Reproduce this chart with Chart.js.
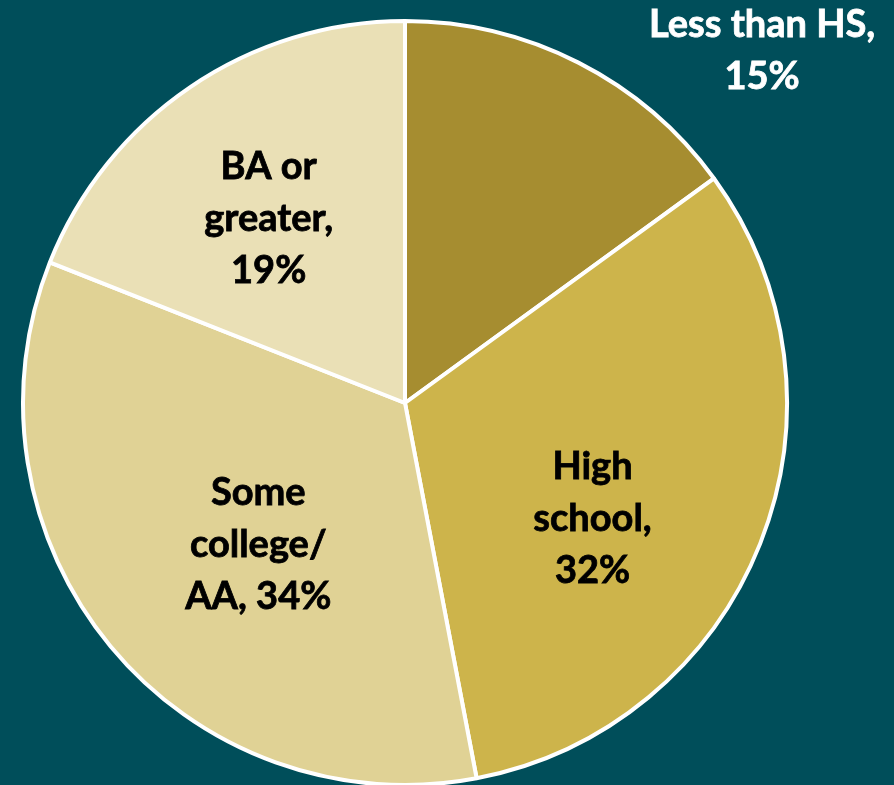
<!DOCTYPE html>
<html>
<head>
<meta charset="utf-8">
<script src="https://cdn.jsdelivr.net/npm/chart.js@4"></script>
<style>
  html, body { margin: 0; padding: 0; background: #004E5A; }
  #wrap { width: 894px; height: 785px; }
</style>
</head>
<body>
<div id="wrap"><canvas id="pieChart" width="894" height="785"></canvas></div>
<script>
const categories = ['Less than HS', 'High school', 'Some college/ AA', 'BA or greater'];
const shares = [15, 32, 34, 19];
const sliceColors = ['#A68D30', '#CDB44B', '#E0D295', '#EAE0B6'];

// label text as drawn, one entry per line
const labelLines = [
  ['Less than HS,', '15%'],
  ['High', 'school,', '32%'],
  ['Some', 'college/', 'AA, 34%'],
  ['BA or', 'greater,', '19%']
];
// where each label sits: angle from 12 o'clock (deg) and distance in radii
const labelSpots = [
  { angle: 45.4, dist: 1.313, color: '#FFFFFF' },
  { angle: 121.7, dist: 0.577, color: '#000000' },
  { angle: 226, dist: 0.534, color: '#000000' },
  { angle: 323.5, dist: 0.60, color: '#000000' }
];

const labelPlugin = {
  id: 'sliceLabels',
  afterDatasetsDraw(chart) {
    const ctx = chart.ctx;
    const arcs = chart.getDatasetMeta(0).data;
    if (!arcs.length) return;
    const cx = arcs[0].x, cy = arcs[0].y, r = arcs[0].outerRadius;
    const lineH = 52;
    ctx.save();
    ctx.font = 'bold 38px Lato, "Open Sans", sans-serif';
    ctx.textAlign = 'center';
    ctx.textBaseline = 'middle';
    labelLines.forEach((lines, i) => {
      const spot = labelSpots[i];
      const a = spot.angle * Math.PI / 180;
      const x = cx + Math.sin(a) * r * spot.dist;
      const y = cy - Math.cos(a) * r * spot.dist;
      ctx.fillStyle = spot.color;
      // slight stroke to thicken glyphs toward the heavier original face
      ctx.strokeStyle = spot.color;
      ctx.lineWidth = 0.8;
      const top = y - (lines.length - 1) * lineH / 2;
      lines.forEach((t, j) => {
        ctx.fillText(t, x, top + j * lineH);
        ctx.strokeText(t, x, top + j * lineH);
      });
    });
    ctx.restore();
  }
};

new Chart(document.getElementById('pieChart').getContext('2d'), {
  type: 'pie',
  data: {
    labels: categories,
    datasets: [{
      data: shares,
      backgroundColor: sliceColors,
      borderColor: '#FFFFFF',
      borderWidth: 4,
      clip: false
    }]
  },
  options: {
    responsive: false,
    animation: false,
    radius: 382,
    layout: { padding: { left: 0, right: 84, top: 21, bottom: 0 } },
    plugins: {
      legend: { display: false },
      tooltip: { enabled: false }
    }
  },
  plugins: [labelPlugin]
});
</script>
</body>
</html>
